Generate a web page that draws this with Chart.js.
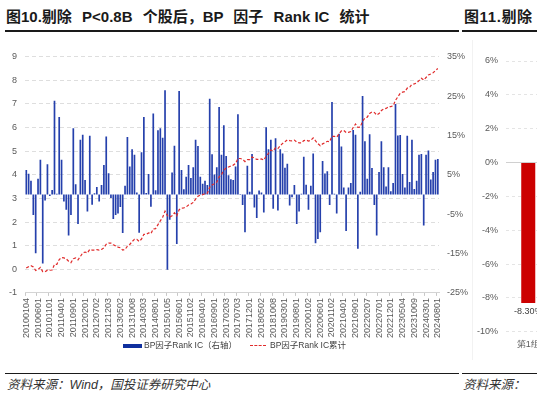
<!DOCTYPE html>
<html><head><meta charset="utf-8">
<script src="https://cdn.jsdelivr.net/npm/chart.js@4.4.1/dist/chart.umd.min.js"></script>
<style>
html,body{margin:0;padding:0;background:#fff;}
body{width:537px;height:395px;overflow:hidden;position:relative;font-family:"Liberation Sans","Noto Sans CJK SC",sans-serif;}
.title{position:absolute;top:5px;font-size:15px;font-weight:bold;color:#1a1a1a;white-space:nowrap;word-spacing:6px;}
.title span{word-spacing:0;}
.rule{position:absolute;background:#1a1a1a;}
.src{position:absolute;top:374px;font-size:12.5px;font-style:italic;color:#333;white-space:nowrap;font-family:"Liberation Sans","Noto Sans CJK SC",sans-serif;}
#c1wrap{position:absolute;left:0;top:40px;width:470px;height:300px;}
#c2wrap{position:absolute;left:462px;top:40px;width:100px;height:320px;}
.leg{position:absolute;top:339px;font-size:8.5px;color:#404040;white-space:nowrap;line-height:12px;}
.legbox{position:absolute;left:123px;top:344px;width:19px;height:3.5px;background:#0f2f9e;}
.legdash{position:absolute;left:250px;top:345px;width:16px;height:0;border-top:1.4px dashed #e02b2b;}
.vsep{position:absolute;left:472px;top:40px;width:1px;height:320px;background:#f2f2f2;}
</style></head>
<body>
<div class="title" style="left:6px">图10.剔除 P&lt;0.8B 个股后，BP 因子 <span>Rank IC</span> 统计</div>
<div class="title" style="left:464px;letter-spacing:0.6px">图11.剔除</div>
<div class="rule" style="left:5px;top:30px;width:454px;height:2px"></div>
<div class="rule" style="left:462px;top:30px;width:80px;height:2px"></div>
<div class="vsep"></div>
<div id="c1wrap"><canvas id="c1" width="470" height="300"></canvas></div>
<div id="c2wrap"><canvas id="c2" width="100" height="320"></canvas></div>
<div class="legbox"></div>
<div class="leg" style="left:144px">BP因子Rank IC（右轴）</div>
<div class="legdash"></div>
<div class="leg" style="left:270px">BP因子Rank IC累计</div>
<div class="rule" style="left:5px;top:372.5px;width:454px;height:1.5px"></div>
<div class="rule" style="left:462px;top:372.5px;width:80px;height:1.5px"></div>
<div class="src" style="left:7px">资料来源：Wind，国投证券研究中心</div>
<div class="src" style="left:463px">资料来源：</div>
<script>
// x-axis tick labels shown every 5 months
const tickLabels = ['20100104','20100601','20101101','20110401','20110901','20120201','20120702','20121203',
'20130502','20131008','20140303','20140801','20150105','20150601','20151102','20160401','20160901','20170203',
'20170703','20171201','20180502','20181008','20190301','20190801','20200102','20200601','20201102','20210401',
'20210901','20220207','20220701','20221201','20230504','20231009','20240301','20240801'];
const startYear = 2010, monthCount = 176;
// monthly BP factor Rank IC (%), right axis
const icMonthly = [
6.25,5.24,3.46,-5.19,-14.9,3.97,8.8,-17.5,-1.5,7.7,-0.36,1.17,23.8,0.2,19.7,8.8,-1.8,-3.9,-10.4,-5.2,16.8,2.6,-7.5,13.9,15.2,3.7,-4.3,14.9,-2.6,0.3,1.9,-1.8,2.4,7.5,14.7,5.4,-0.9,-6.2,-5.2,-4.8,-3.2,-9.8,2.2,14.6,
7.1,11.5,10.1,0.5,-9.7,10.7,19.7,0.4,5.2,-3.1,20.6,1.1,16.3,16.8,14.4,26.5,-19.1,-6.4,5.6,12.4,-12.6,26.3,6.2,1.3,4.5,7.5,4.2,6.9,13.9,12.3,4.5,2.7,3.5,2.4,24.3,10.2,5.1,6.9,22.2,10.1,17.6,9.8,4.9,3.9,
3.7,7.1,20.4,0.1,-2.7,-9.6,7.3,0.7,10.3,-3.3,-6.0,1.0,0.5,-4.6,17.1,11.5,13.9,-3.6,14.3,-4.1,11.5,10.4,6.8,7.8,-2.8,-0.7,2.4,-7.5,-4.3,0.2,9.6,2.5,-3.9,2.2,10.4,-12.4,-11.3,-9.6,8.5,5.3,5.9,-2.7,23.5,0.2,
-4.8,15.4,12.2,1.8,-9.3,1.8,2.9,16.4,15.2,-13.8,0.7,25.0,13.5,4.0,15.3,6.7,-2.7,-10.4,5.7,13.5,6.9,2.0,6.9,0.8,2.9,23.0,15.0,15.1,5.2,1.8,14.9,3.2,13.9,1.4,3.5,10.1,10.3,-7.9,10.1,11.2,3.8,5.7,8.8,9.0];
// cumulative Rank IC, left axis
const icCumulative = [
0.06,0.11,0.15,0.10,-0.05,-0.01,0.08,-0.10,-0.11,-0.04,-0.04,-0.03,0.21,0.21,0.41,0.50,0.48,0.44,0.34,0.28,0.45,0.48,0.40,0.54,0.69,0.73,0.69,0.84,0.81,0.81,0.83,0.81,0.84,0.91,1.06,1.11,1.11,1.04,0.99,0.94,0.91,0.81,0.84,0.98,
1.05,1.17,1.27,1.27,1.18,1.28,1.48,1.48,1.54,1.51,1.71,1.72,1.89,2.05,2.20,2.46,2.27,2.21,2.26,2.39,2.26,2.52,2.59,2.60,2.64,2.72,2.76,2.83,2.97,3.09,3.14,3.16,3.20,3.22,3.47,3.57,3.62,3.69,3.91,4.01,4.19,4.29,4.33,4.37,
4.41,4.48,4.69,4.69,4.66,4.56,4.64,4.64,4.75,4.71,4.65,4.66,4.67,4.62,4.79,4.91,5.05,5.01,5.15,5.11,5.23,5.33,5.40,5.48,5.45,5.44,5.47,5.39,5.35,5.35,5.45,5.47,5.43,5.46,5.56,5.44,5.32,5.23,5.31,5.36,5.42,5.40,5.63,5.63,
5.59,5.74,5.86,5.88,5.79,5.80,5.83,6.00,6.15,6.01,6.02,6.27,6.40,6.44,6.60,6.66,6.64,6.53,6.59,6.72,6.79,6.81,6.88,6.89,6.92,7.15,7.30,7.45,7.50,7.52,7.67,7.70,7.84,7.85,7.89,7.99,8.09,8.01,8.12,8.23,8.27,8.32,8.41,8.50];
// chart 11 (partially visible)
const groupLabels = ['第1组'];
const groupReturns = [-8.30];

const categories = [];
for (let i = 0; i < monthCount; i++) {
  const y = startYear + Math.floor(i / 12), m = (i % 12) + 1;
  categories.push(i % 5 === 0 ? tickLabels[i / 5] : y + String(m).padStart(2, '0'));
}

const FONT = {family: 'Liberation Sans', size: 9};
const GRAY = '#595959';

new Chart(document.getElementById('c1'), {
  type: 'bar',
  data: {
    labels: categories,
    datasets: [
      {type: 'line', label: 'BP因子Rank IC累计', data: icCumulative, yAxisID: 'y',
       borderColor: '#e02b2b', borderWidth: 1.2, borderDash: [3, 2], pointRadius: 0, tension: 0, order: 0},
      {type: 'bar', label: 'BP因子Rank IC（右轴）', data: icMonthly, yAxisID: 'y2',
       backgroundColor: '#2540ac', barPercentage: 0.72, categoryPercentage: 1, order: 1}
    ]
  },
  options: {
    responsive: false, animation: false,
    layout: {padding: {top: 16.7, left: 0, right: 0, bottom: 0}},
    plugins: {legend: {display: false}, tooltip: {enabled: false}},
    scales: {
      x: {
        grid: {drawOnChartArea: false, tickLength: 3, color: c => (c.index % 5 === 0 ? '#c8c8c8' : 'rgba(0,0,0,0)')},
        border: {display: true, color: '#d4d4d4'},
        ticks: {autoSkip: false, maxRotation: 90, minRotation: 90, padding: 2, font: FONT, color: GRAY,
                callback: (v, i) => (i % 5 === 0 ? tickLabels[i / 5] : '')},
        afterFit: s => { s.height = 47.1; }
      },
      y: {
        position: 'left', min: -1, max: 9,
        ticks: {stepSize: 1, padding: 8, font: FONT, color: GRAY},
        grid: {color: '#dedede', drawTicks: false},
        border: {display: false, dash: [4, 3]},
        afterFit: s => { s.width = 25.1; }
      },
      y2: {
        position: 'right', min: -25, max: 35,
        ticks: {stepSize: 10, padding: 8, font: FONT, color: GRAY, callback: v => v + '%'},
        grid: {display: false, drawTicks: false},
        border: {display: false},
        afterFit: s => { s.width = 31; }
      }
    }
  }
});

const barLabel = {
  id: 'barLabel',
  afterDatasetsDraw(chart) {
    const ctx = chart.ctx;
    const meta = chart.getDatasetMeta(0);
    ctx.save();
    ctx.font = '9px "Liberation Sans"';
    ctx.fillStyle = '#404040';
    ctx.textAlign = 'center';
    ctx.textBaseline = 'middle';
    meta.data.forEach((el, i) => {
      ctx.fillText(groupReturns[i].toFixed(2) + '%', el.x, el.y + 9);
    });
    ctx.restore();
  }
};

new Chart(document.getElementById('c2'), {
  type: 'bar',
  data: {labels: groupLabels, datasets: [{data: groupReturns, backgroundColor: '#cc0000', barPercentage: 0.315, categoryPercentage: 1}]},
  options: {
    responsive: false, animation: false,
    layout: {padding: {top: 21, right: 11.5, left: 0, bottom: 0}},
    plugins: {legend: {display: false}, tooltip: {enabled: false}},
    scales: {
      x: {
        grid: {display: false, drawTicks: false}, border: {display: false},
        ticks: {padding: 7, font: FONT, color: GRAY},
        afterFit: s => { s.height = 28.3; }
      },
      y: {
        min: -10, max: 6,
        ticks: {stepSize: 2, padding: 8, font: FONT, color: GRAY, callback: v => v + '%'},
        grid: {color: c => (c.tick && c.tick.value === 0 ? '#d0d0d0' : '#e4e4e4'), drawTicks: false},
        border: {display: false, dash: c => (c.tick && c.tick.value === 0 ? [] : [3, 3])},
        afterFit: s => { s.width = 44; }
      }
    }
  },
  plugins: [barLabel]
});
</script>
</body></html>
